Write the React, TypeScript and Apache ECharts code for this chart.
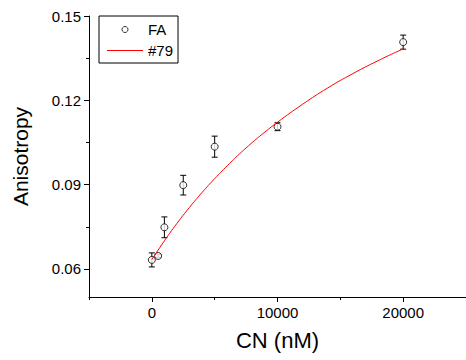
import React, { useEffect, useRef } from "react";
import * as echarts from "echarts";

// Measured data: concentration (nM), anisotropy, error
const faX = [0, 500, 1000, 2500, 5000, 10000, 20000];
const faY = [0.0632, 0.0646, 0.0748, 0.0898, 0.1035, 0.1106, 0.1407];
const faErr = [0.0025, 0.0006, 0.0037, 0.0035, 0.00375, 0.0014, 0.0025];

// Fitted curve "#79"
const fitX = [0, 1000, 2000, 3000, 4000, 5000, 6000, 7000, 8000, 9000, 10000, 12000, 14000, 16000, 18000, 20000];
const fitY = [0.0633, 0.0700, 0.0762, 0.0819, 0.0872, 0.0921, 0.0967, 0.1010, 0.1050, 0.1087, 0.1122, 0.1186, 0.1244, 0.1295, 0.1341, 0.1383];

const yMajor = [0.06, 0.09, 0.12, 0.15];
const yMinor = [0.075, 0.105, 0.135];
const xMajor = [0, 10000, 20000];
const xMinor = [-5000, 5000, 15000];

const FONT = "'Liberation Sans', Arial, sans-serif";

export default function App() {
  const ref = useRef<HTMLDivElement>(null);
  useEffect(() => {
    if (!ref.current) return;
    const chart = echarts.init(ref.current, undefined, { renderer: "svg" });
    const faData = faX.map((x, i) => [x, faY[i]]);
    const errData = faX.map((x, i) => [x, faY[i], faErr[i]]);
    const fitData = fitX.map((x, i) => [x, fitY[i]]);
    const axisLine = { show: true, onZero: false, lineStyle: { color: "#000", width: 1 } };
    chart.setOption({
      animation: false,
      backgroundColor: "#fff",
      textStyle: { fontFamily: FONT },
      grid: { left: 89, right: 0, top: 16, bottom: 63, containLabel: false },
      legend: {
        data: [
          { name: "FA", itemStyle: { borderWidth: 1, borderColor: "#000", color: "#fff" } },
          { name: "#79", icon: "path://M0,0L36,0L36,1L0,1Z", itemStyle: { color: "#ff0000" } },
        ],
        orient: "vertical",
        left: 99,
        top: 16,
        borderColor: "#000",
        borderWidth: 1,
        padding: [6, 5, 5, 8],
        itemGap: 6,
        itemWidth: 36,
        itemHeight: 6,
        textStyle: { fontFamily: FONT, fontSize: 15, color: "#000", lineHeight: 15 },
      },
      xAxis: [
        {
          type: "value",
          min: -5000,
          max: 25000,
          interval: 5000,
          name: "CN (nM)",
          nameLocation: "middle",
          nameGap: 32,
          nameTextStyle: { fontFamily: FONT, fontSize: 22, color: "#000" },
          axisLine,
          axisTick: { show: true, customValues: xMajor, length: 5, lineStyle: { color: "#000" } },
          axisLabel: {
            customValues: xMajor,
            formatter: (v: number) => String(v),
            fontFamily: FONT,
            fontSize: 15,
            color: "#000",
            margin: 8,
          },
          splitLine: { show: false },
        },
        {
          type: "value",
          min: -5000,
          max: 25000,
          interval: 5000,
          position: "bottom",
          axisLine: { show: false, onZero: false },
          axisTick: { show: true, customValues: xMinor, length: 3, lineStyle: { color: "#000" } },
          axisLabel: { show: false },
          splitLine: { show: false },
        },
      ],
      yAxis: [
        {
          type: "value",
          min: 0.05,
          max: 0.15,
          name: "Anisotropy",
          nameLocation: "middle",
          nameGap: 58,
          nameTextStyle: { fontFamily: FONT, fontSize: 21, color: "#000" },
          axisLine,
          axisTick: { show: true, customValues: yMajor, length: 5, lineStyle: { color: "#000" } },
          axisLabel: {
            customValues: yMajor,
            formatter: (v: number) => v.toFixed(2),
            fontFamily: FONT,
            fontSize: 15,
            color: "#000",
            margin: 8,
          },
          splitLine: { show: false },
        },
        {
          type: "value",
          min: 0.05,
          max: 0.15,
          position: "left",
          axisLine: { show: false, onZero: false },
          axisTick: { show: true, customValues: yMinor, length: 3, lineStyle: { color: "#000" } },
          axisLabel: { show: false },
          splitLine: { show: false },
        },
      ],
      series: [
        {
          name: "err",
          type: "custom",
          z: 2,
          data: errData,
          renderItem: (params: any, api: any) => {
            const x = api.value(0);
            const y = api.value(1);
            const e = api.value(2);
            const top = api.coord([x, y + e]);
            const bot = api.coord([x, y - e]);
            const hw = 3;
            const style = { stroke: "#000", lineWidth: 1 };
            return {
              type: "group",
              children: [
                { type: "line", shape: { x1: top[0], y1: top[1], x2: bot[0], y2: bot[1] }, style },
                { type: "line", shape: { x1: top[0] - hw, y1: top[1], x2: top[0] + hw, y2: top[1] }, style },
                { type: "line", shape: { x1: bot[0] - hw, y1: bot[1], x2: bot[0] + hw, y2: bot[1] }, style },
              ],
            };
          },
        },
        {
          name: "FA",
          type: "scatter",
          z: 3,
          symbol: "circle",
          symbolSize: 7,
          itemStyle: { color: "#fff", borderColor: "#000", borderWidth: 1 },
          data: faData,
        },
        {
          name: "#79",
          type: "line",
          z: 4,
          smooth: true,
          symbol: "none",
          lineStyle: { color: "#ff0000", width: 1 },
          itemStyle: { color: "#ff0000" },
          data: fitData,
        },
      ],
    });
    return () => chart.dispose();
  }, []);
  return (
    <div
      ref={ref}
      style={{ position: "absolute", left: 0, top: 0, width: 466, height: 360 }}
    />
  );
}
